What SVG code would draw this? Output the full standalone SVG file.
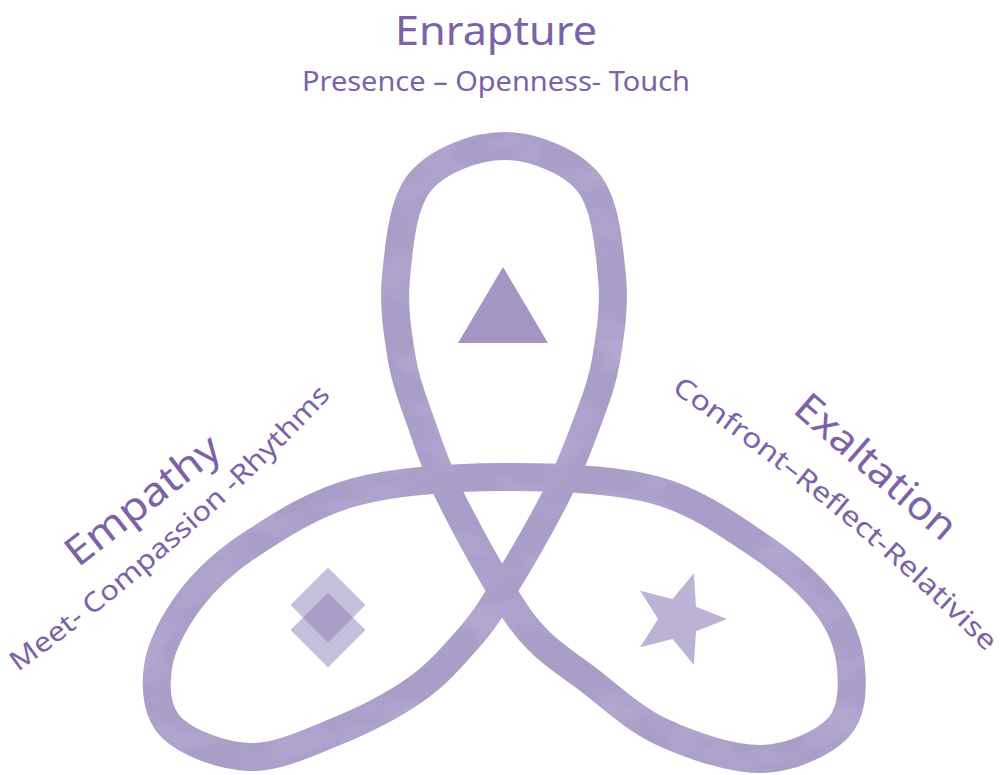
<svg xmlns="http://www.w3.org/2000/svg" width="1003" height="775" viewBox="0 0 1003 775">
<style>
.title{font-family:"Noto Sans","DejaVu Sans",sans-serif;font-size:40px;fill:#7b62a9;}
.sub{font-family:"Noto Sans","DejaVu Sans",sans-serif;font-size:27px;fill:#7b62a9;}
.band{fill:none;stroke:#a99ec8;stroke-width:28;stroke-linejoin:round;}
.sym{stroke:none;}
</style>
<defs>
<filter id="wc" x="-5%" y="-5%" width="110%" height="110%">
<feTurbulence type="fractalNoise" baseFrequency="0.012 0.02" numOctaves="3" seed="7" result="noise"/>
<feColorMatrix in="noise" type="matrix" values="0 0 0 0 0.5  0 0 0 0 0.44  0 0 0 0 0.68  1.6 0 0 0 -0.7" result="blot"/>
<feComposite in="blot" in2="SourceAlpha" operator="in" result="b2"/>
<feMerge><feMergeNode in="SourceGraphic"/><feMergeNode in="b2"/></feMerge>
</filter>
<path id="empSub" d="M 18 672 Q 190.6 546.6 332 395"/>
<path id="exaSub" d="M 671 391 Q 840 507 982 648"/>
</defs>
<rect width="1003" height="775" fill="#ffffff"/>
<g id="knot" filter="url(#wc)">
<path class="band" d="M 504 146 C 532 146, 570 160.2, 588 182 C 606 203.8, 609 247.3, 612 277 C 615 306.7, 610 336.2, 606 360 C 602 383.8, 596 398, 588 420 C 580 442, 572.3 463.5, 558 492 C 543.7 520.5, 517.2 566.3, 502 591 C 486.8 615.7, 481.5 623.5, 467 640 C 452.5 656.5, 437 674.7, 415 690 C 393 705.3, 362.5 720.8, 335 732 C 307.5 743.2, 277.2 757.7, 250 757 C 222.8 756.3, 187.3 743, 172 728 C 156.7 713, 155 688.3, 158 667 C 161 645.7, 174.7 620.3, 190 600 C 205.3 579.7, 222.5 563, 250 545 C 277.5 527, 312.7 503.3, 355 492 C 397.3 480.7, 454 477.3, 504 477 C 554 476.7, 612.3 478.5, 655 490 C 697.7 501.5, 731.3 526.7, 760 546 C 788.7 565.3, 811.8 585.8, 827 606 C 842.2 626.2, 849.2 646.7, 851 667 C 852.8 687.3, 852.8 712.7, 838 728 C 823.2 743.3, 791.3 758.3, 762 759 C 732.7 759.7, 691.5 745.7, 662 732 C 632.5 718.3, 605.7 692.3, 585 677 C 564.3 661.7, 551.8 654.3, 538 640 C 524.2 625.7, 517 615.7, 502 591 C 487 566.3, 461.7 520.5, 448 492 C 434.3 463.5, 427.7 442, 420 420 C 412.3 398, 406 383.8, 402 360 C 398 336.2, 393 306.7, 396 277 C 399 247.3, 402 203.8, 420 182 C 438 160.2, 476 146, 504 146 Z"/>
</g>
<g id="enrapture">
<text class="title" x="496" y="45" text-anchor="middle" textLength="202" lengthAdjust="spacingAndGlyphs">Enrapture</text>
<text class="sub" x="496" y="91" text-anchor="middle" textLength="388" lengthAdjust="spacingAndGlyphs">Presence – Openness- Touch</text>
<polygon class="sym" points="503,267 458,343 548,343" fill="#a396c4"/>
</g>
<g id="empathy">
<text class="title" x="151" y="511" text-anchor="middle" textLength="185" lengthAdjust="spacingAndGlyphs" transform="rotate(-38 151 511)">Empathy</text>
<text class="sub"><textPath href="#empSub" textLength="418" lengthAdjust="spacingAndGlyphs">Meet- Compassion -Rhythms</textPath></text>
<polygon class="sym" points="328,567.5 365.5,605 328,642.5 290.5,605" fill="#8e7fb8" fill-opacity="0.5"/>
<polygon class="sym" points="328,592.5 365.5,630 328,667.5 290.5,630" fill="#8e7fb8" fill-opacity="0.5"/>
</g>
<g id="exaltation">
<text class="title" x="867" y="477" text-anchor="middle" textLength="200" lengthAdjust="spacingAndGlyphs" transform="rotate(41 867 477)">Exaltation</text>
<text class="sub"><textPath href="#exaSub" textLength="410" lengthAdjust="spacingAndGlyphs">Confront–Reflect-Relativise</textPath></text>
<polygon class="sym" fill="#bcb2d6" points="727,619 696,631.3 693.8,664.7 672.5,639 640.2,647.2 658,619 640.2,590.8 672.5,599 693.8,573.3 696,606.7"/>
</g>
</svg>
